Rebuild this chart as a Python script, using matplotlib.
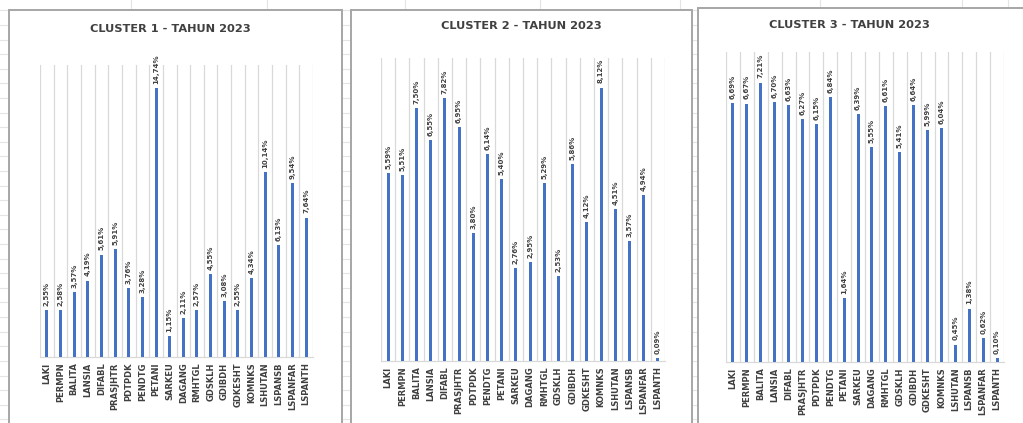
import matplotlib
matplotlib.use("Agg")
import matplotlib.pyplot as plt
from matplotlib.patches import Rectangle

plt.rcParams['font.family'] = ['DejaVu Sans']

categories = ["LAKI", "PERMPN", "BALITA", "LANSIA", "DIFABL", "PRASJHTR", "PDTPDK",
              "PENDTG", "PETANI", "SARKEU", "DAGANG", "RMHTGL", "GDSKLH", "GDIBDH",
              "GDKESHT", "KOMNKS", "LSHUTAN", "LSPANSB", "LSPANFAR", "LSPANTH"]

cluster1 = [2.55, 2.58, 3.57, 4.19, 5.61, 5.91, 3.76, 3.28, 14.74, 1.15,
            2.11, 2.57, 4.55, 3.08, 2.55, 4.34, 10.14, 6.13, 9.54, 7.64]
cluster2 = [5.59, 5.51, 7.50, 6.55, 7.82, 6.95, 3.80, 6.14, 5.40, 2.76,
            2.95, 5.29, 2.53, 5.86, 4.12, 8.12, 4.51, 3.57, 4.94, 0.09]
cluster3 = [6.69, 6.67, 7.21, 6.70, 6.63, 6.27, 6.15, 6.84, 1.64, 6.39,
            5.55, 6.61, 5.41, 6.64, 5.99, 6.04, 0.45, 1.38, 0.62, 0.10]

titles = ["CLUSTER 1 - TAHUN 2023", "CLUSTER 2 - TAHUN 2023", "CLUSTER 3 - TAHUN 2023"]
series = [cluster1, cluster2, cluster3]
ymax = [16, 9, 8]

W, H = 1023, 423
fig = plt.figure(figsize=(W / 100, H / 100), dpi=100)
fig.patch.set_facecolor("white")

def fx(px):
    return px / W

def fy(py):
    return 1 - py / H

# spreadsheet background grid
bg = fig.add_axes([0, 0, 1, 1], zorder=0)
bg.set_xlim(0, W)
bg.set_ylim(H, 0)
bg.axis("off")
y = 10.5
while y < H:
    bg.axhline(y, color="#e4e4e4", lw=0.8)
    y += 14.6
for x in [131, 267, 405, 540, 680, 820, 962, 1008]:
    bg.axvline(x, color="#e4e4e4", lw=0.8)

# panel frames (pixel coords: left, top, right)
frames = [(9, 10, 342), (351, 10, 692), (698, 8, 1030)]
for (l, t, r) in frames:
    bg.add_patch(Rectangle((l, t), r - l, H - t + 10, facecolor="white",
                           edgecolor="#a6a6a6", lw=1.4, zorder=2))

# plot areas (left, right, top, baseline) in pixels
areas = [(40, 313, 65, 357), (381, 665, 58, 361), (726, 1004, 52, 362)]
title_y = [29, 26, 25]
title_cx = [170, 521, 849]

for i, (vals, (l, r, t, b)) in enumerate(zip(series, areas)):
    ax = fig.add_axes([fx(l), fy(b), fx(r - l), (b - t) / H], zorder=3)
    ax.set_facecolor("none")
    xs = list(range(len(categories)))
    ax.bar(xs, vals, width=0.22, color="#4472C4", zorder=3)
    ax.set_xlim(-0.5, len(categories) - 0.5)
    ax.set_ylim(0, ymax[i])
    for k in range(len(categories) + 1):
        ax.axvline(k - 0.5, color="#d9d9d9", lw=0.9, zorder=1)
    for s in ["top", "left", "right"]:
        ax.spines[s].set_visible(False)
    ax.spines["bottom"].set_color("#d9d9d9")
    ax.spines["bottom"].set_linewidth(0.9)
    ax.set_yticks([])
    ax.set_xticks(xs)
    ax.set_xticklabels(categories, rotation=90, fontsize=6.0, fontweight="bold",
                       color="#404040")
    ax.tick_params(axis="x", length=0, pad=4)
    for x, v in zip(xs, vals):
        ax.annotate(f"{v:.2f}%".replace(".", ","), (x, v), xytext=(0, 3),
                    textcoords="offset points", rotation=90, ha="center", va="bottom",
                    fontsize=5.0, fontweight="bold", color="#404040")
    fig.text(fx(title_cx[i]), fy(title_y[i]), titles[i], ha="center", va="center",
             fontsize=8.2, fontweight="bold", color="#404040", zorder=4)

fig.savefig("out.png", dpi=100, facecolor="white")
